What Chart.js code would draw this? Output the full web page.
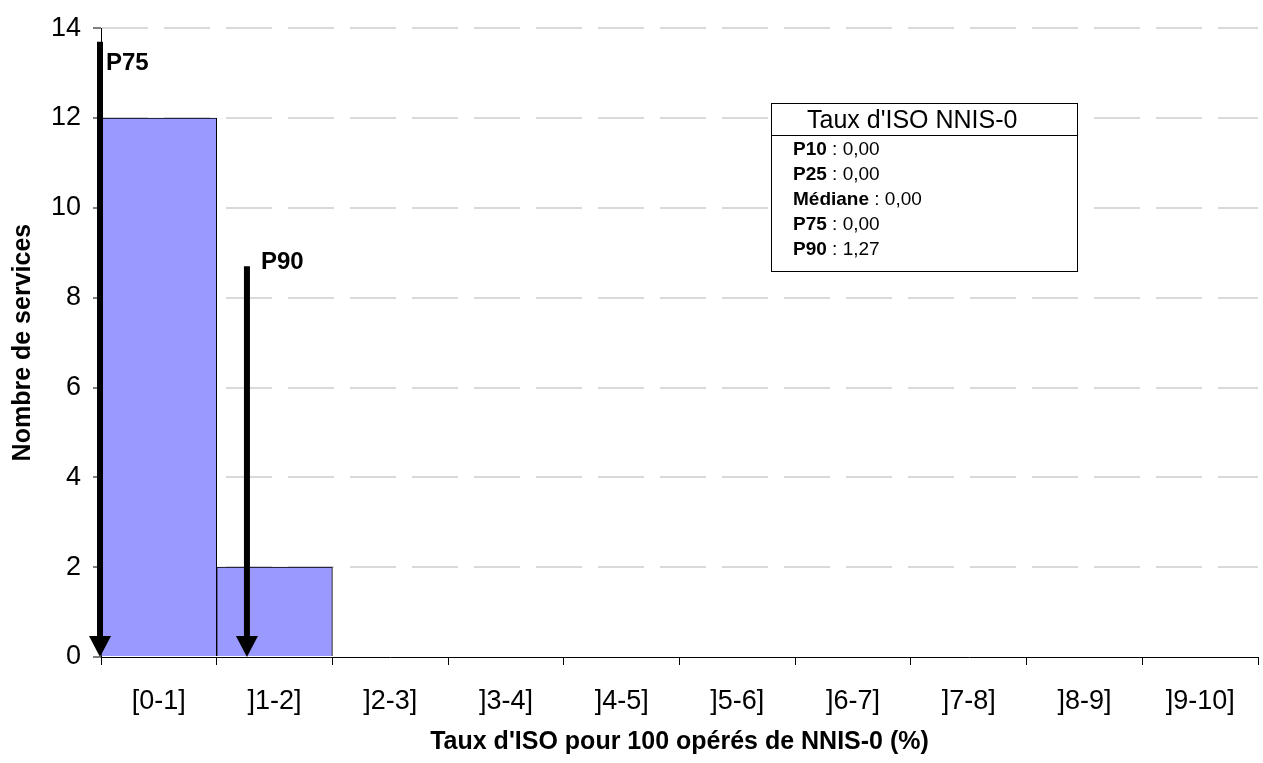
<!DOCTYPE html>
<html>
<head>
<meta charset="utf-8">
<script src="https://cdn.jsdelivr.net/npm/chart.js@4/dist/chart.umd.min.js"></script>
<style>
  html, body { margin: 0; padding: 0; background: #fff; }
  canvas { display: block; }
</style>
</head>
<body>
<canvas id="iso-chart" width="1263" height="763"></canvas>
<script>
// histogram classes and counts
const categories = ['[0-1]', ']1-2]', ']2-3]', ']3-4]', ']4-5]', ']5-6]', ']6-7]', ']7-8]', ']8-9]', ']9-10]'];
const serviceCounts = [12, 2, 0, 0, 0, 0, 0, 0, 0, 0];
const yTicks = [0, 2, 4, 6, 8, 10, 12, 14];

// percentile arrows (value on the rate axis, height of the arrow top)
const arrowLabels = ['P75', 'P90'];
const arrowValues = [0.00, 1.27];
const arrowTops = [13.7, 8.7];

// summary box
const statTitle = "Taux d'ISO NNIS-0";
const statLabels = ['P10', 'P25', 'Médiane', 'P75', 'P90'];
const statValues = [0.00, 0.00, 0.00, 0.00, 1.27];

const FONT = "'Liberation Sans', Arial, sans-serif";

const fmt = v => v.toFixed(2).replace('.', ',');

const arrowPlugin = {
  id: 'arrows',
  afterDatasetsDraw(chart) {
    const ctx = chart.ctx;
    const xv = chart.scales.xv;
    const y = chart.scales.y;
    const offsets = [[6, 28], [14, 3]]; // label offset from arrow top
    ctx.save();
    arrowValues.forEach((v, i) => {
      const px = xv.getPixelForValue(v) - 1;
      const top = y.getPixelForValue(arrowTops[i]);
      const bottom = y.getPixelForValue(0);
      const headH = 21, headW = 22;
      ctx.strokeStyle = '#000';
      ctx.fillStyle = '#000';
      ctx.lineWidth = 6;
      ctx.beginPath();
      ctx.moveTo(px, top);
      ctx.lineTo(px, bottom - headH + 2);
      ctx.stroke();
      ctx.beginPath();
      ctx.moveTo(px - headW / 2, bottom - headH);
      ctx.lineTo(px + headW / 2, bottom - headH);
      ctx.lineTo(px, bottom);
      ctx.closePath();
      ctx.fill();
      ctx.font = 'bold 24px ' + FONT;
      ctx.textAlign = 'left';
      ctx.textBaseline = 'alphabetic';
      ctx.fillText(arrowLabels[i], px + offsets[i][0], top + offsets[i][1]);
    });
    ctx.restore();
  },
  afterDraw(chart) {
    const ctx = chart.ctx;
    const bx = 771, by = 103, bw = 306, bh = 168;
    ctx.save();
    ctx.fillStyle = '#fff';
    ctx.fillRect(bx, by, bw, bh);
    ctx.strokeStyle = '#000';
    ctx.lineWidth = 1;
    ctx.strokeRect(bx + 0.5, by + 0.5, bw, bh);
    ctx.beginPath();
    ctx.moveTo(bx, 135.5);
    ctx.lineTo(bx + bw, 135.5);
    ctx.stroke();
    ctx.fillStyle = '#000';
    ctx.textBaseline = 'alphabetic';
    ctx.textAlign = 'left';
    ctx.font = '25px ' + FONT;
    ctx.fillText(statTitle, 807, 128);
    statLabels.forEach((lab, i) => {
      const yy = 155 + i * 25;
      ctx.font = 'bold 19px ' + FONT;
      ctx.fillText(lab, 793, yy);
      const w = ctx.measureText(lab).width;
      ctx.font = '19px ' + FONT;
      ctx.fillText(' : ' + fmt(statValues[i]), 793 + w, yy);
    });
    ctx.restore();
  }
};

new Chart(document.getElementById('iso-chart'), {
  type: 'bar',
  data: {
    labels: categories,
    datasets: [{
      data: serviceCounts,
      backgroundColor: '#9999ff',
      borderColor: '#000',
      borderWidth: 1,
      barPercentage: 1,
      categoryPercentage: 1,
      xAxisID: 'x',
      yAxisID: 'y'
    }]
  },
  options: {
    responsive: false,
    animation: false,
    devicePixelRatio: 1,
    layout: { padding: { top: 22, right: 5, left: 0, bottom: 0 } },
    plugins: {
      legend: { display: false },
      tooltip: { enabled: false }
    },
    scales: {
      x: {
        type: 'category',
        offset: true,
        afterFit(scale) { scale.height = 106; },
        border: { color: '#000', width: 1 },
        grid: {
          offset: true,
          drawOnChartArea: false,
          tickLength: 8,
          tickColor: '#000'
        },
        ticks: {
          color: '#000',
          padding: 20,
          maxRotation: 0,
          font: { family: FONT, size: 27 }
        },
        title: {
          display: true,
          text: "Taux d'ISO pour 100 opérés de NNIS-0 (%)",
          color: '#000',
          padding: { top: 0, bottom: 6 },
          font: { family: FONT, size: 25, weight: 'bold', lineHeight: 1.2 }
        }
      },
      xv: {
        type: 'linear',
        display: false,
        min: 0,
        max: 10,
        offset: false
      },
      y: {
        min: 0,
        max: 14,
        afterFit(scale) { scale.width = 101; },
        afterBuildTicks(scale) { scale.ticks = yTicks.map(v => ({ value: v })); },
        border: { color: '#000', width: 1, dash: [46, 16] },
        grid: {
          color: c => (c.tick && c.tick.value === 0 ? 'rgba(0,0,0,0)' : '#d9d9d9'),
          lineWidth: 2,
          tickLength: 8,
          tickColor: '#000',
          tickWidth: 1,
          tickBorderDash: []
        },
        ticks: {
          color: '#000',
          padding: 12,
          font: { family: FONT, size: 27 }
        },
        title: {
          display: true,
          text: 'Nombre de services',
          color: '#000',
          padding: { top: 8, bottom: 0 },
          font: { family: FONT, size: 25, weight: 'bold', lineHeight: 1.2 }
        }
      }
    }
  },
  plugins: [arrowPlugin]
});
</script>
</body>
</html>
